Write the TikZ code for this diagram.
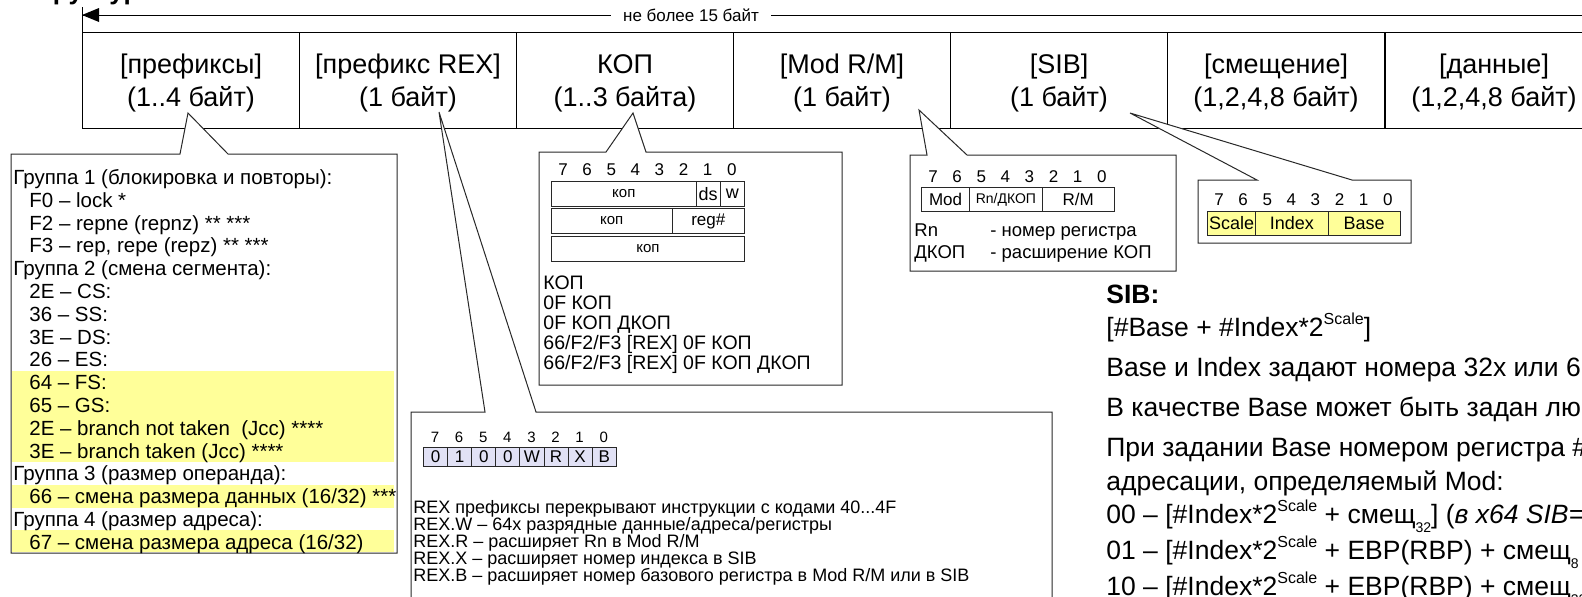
\documentclass[tikz,border=0pt]{standalone}
\usepackage{fontspec}
\setmainfont{Liberation Sans}
\definecolor{hlyel}{RGB}{255,255,153}
\definecolor{rexfill}{RGB}{225,225,245}
\definecolor{lnc}{RGB}{40,40,40}
\newcommand\fsz[1]{\fontsize{#1}{#1}\selectfont}
\newcommand\supx[1]{\raisebox{0.45em}{\fsz{8}#1}}
\newcommand\subx[1]{\raisebox{-0.35em}{\fsz{7}#1}}
\begin{document}
\begin{tikzpicture}[x=0.5pt,y=-0.5pt,
  field/.style={draw, line width=0.5pt, anchor=north west, minimum width=108.5pt, minimum height=48pt, inner sep=0pt},
  ftxt/.style={align=center, inner sep=0pt, font=\fontsize{13.5}{16.5}\selectfont},
  callout/.style={draw=lnc, fill=white, line width=0.5pt, line join=miter},
  ptxt/.style={anchor=base west, inner sep=0pt, font=\fsz{10.25}},
  ctxt/.style={anchor=base west, inner sep=0pt, font=\fsz{9.75}},
  mtxt/.style={anchor=base west, inner sep=0pt, font=\fsz{9.25}},
  rtxt/.style={anchor=base west, inner sep=0pt, font=\fsz{9}},
  stxt/.style={anchor=base west, inner sep=0pt, font=\fsz{13.25}},
  hdr/.style={anchor=center, inner sep=0pt, font=\fsz{8.5}},
  cell/.style={draw=lnc, line width=0.5pt, anchor=north west, inner sep=0pt, minimum height=12.5pt},
]
\useasboundingbox (0,0) rectangle (1582,596);
\newcommand\pl[3]{\node[ptxt] (pl#1) at (#2,{184.4+22.8*#1}) {#3};}

% ---- title (cut by the top edge)
\node[anchor=base west, inner sep=0pt, font=\fsz{13}\bfseries] (title) at (-70,-1) {Общая структура};

% ---- top dimension arrow
\coordinate (aL) at (82,15);
\coordinate (aR) at (1600,15);
\draw[line width=0.5pt] (82,7) -- (82,32);
\draw[line width=0.5pt] (aL) -- (aR);
\fill (aL) -- ++(17,-7) -- ++(0,14) -- cycle;
\node[fill=white, inner xsep=6pt, inner ysep=1pt, font=\fsz{8.5}] (lim) at (691,15) {не более 15 байт};

% ---- fields
\foreach \n/\x in {1/82,2/299,3/516,4/733,5/950,6/1167,7/1385}{
  \node[field] (f\n) at (\x,32) {};
}
\node[ftxt] (f1t) at ([yshift=-1.5pt]f1.center) {[префиксы]\\(1..4 байт)};
\node[ftxt] (f2t) at ([yshift=-1.5pt]f2.center) {[префикс REX]\\(1 байт)};
\node[ftxt] (f3t) at ([yshift=-1.5pt]f3.center) {КОП\\(1..3 байта)};
\node[ftxt] (f4t) at ([yshift=-1.5pt]f4.center) {[Mod R/M]\\(1 байт)};
\node[ftxt] (f5t) at ([yshift=-1.5pt]f5.center) {[SIB]\\(1 байт)};
\node[ftxt] (f6t) at ([yshift=-1.5pt]f6.center) {[смещение]\\(1,2,4,8 байт)};
\node[ftxt] (f7t) at ([yshift=-1.5pt]f7.center) {[данные]\\(1,2,4,8 байт)};

% ---- prefix callout
\coordinate (pA) at (188,113);
\draw[callout] (11,154) -- (180,154) -- (pA) -- (228,154) -- (397,154) -- (397,553) -- (11,553) -- cycle;
\fill[hlyel] (12,{177+22.8*9-11.4}) rectangle (394,{177+22.8*12+11.4});
\fill[hlyel] (12,{177+22.8*14-11.4}) rectangle (394,{177+22.8*14+11.4});
\fill[hlyel] (12,{177+22.8*16-11.4}) rectangle (394,{177+22.8*16+10});
\pl{0}{13}{Группа 1 (блокировка и повторы):}
\pl{1}{29}{F0 – lock *}
\pl{2}{29}{F2 – repne (repnz) ** ***}
\pl{3}{29}{F3 – rep, repe (repz) ** ***}
\pl{4}{13}{Группа 2 (смена сегмента):}
\pl{5}{29}{2E – CS:}
\pl{6}{29}{36 – SS:}
\pl{7}{29}{3E – DS:}
\pl{8}{29}{26 – ES:}
\pl{9}{29}{64 – FS:}
\pl{10}{29}{65 – GS:}
\pl{11}{29}{2E – branch not taken\ \ (Jcc) ****}
\pl{12}{29}{3E – branch taken (Jcc) ****}
\pl{13}{13}{Группа 3 (размер операнда):}
\pl{14}{29}{66 – смена размера данных (16/32) ***}
\pl{15}{13}{Группа 4 (размер адреса):}
\pl{16}{29}{67 – смена размера адреса (16/32)}

% ---- REX callout
\coordinate (rA) at (439,112);
\draw[callout] (411,620) -- (411,412) -- (485,412) -- (rA) -- (536,412) -- (1052,412) -- (1052,620);
\foreach \b/\v in {7/0,6/1,5/0,4/0,3/W,2/R,1/X,0/B}{
  \node[cell, fill=rexfill, minimum width=12.05pt, minimum height=9.5pt, font=\fsz{8.5}] (rc\b) at ({423+24.1*(7-\b)},447) {\v};
  \node[hdr, font=\fsz{7.5}] (rh\b) at ({423+24.1*(7-\b)+12.05},437) {\b};
}
\node[rtxt] (r1) at (413,513.5) {REX префиксы перекрывают инструкции с кодами 40...4F};
\node[rtxt] (r2) at (413,530.5) {REX.W – 64х разрядные данные/адреса/регистры};
\node[rtxt] (r3) at (413,547.5) {REX.R – расширяет Rn в Mod R/M};
\node[rtxt] (r4) at (413,564.5) {REX.X – расширяет номер индекса в SIB};
\node[rtxt] (r5) at (413,581.5) {REX.B – расширяет номер базового регистра в Mod R/M или в SIB};

% ---- KOP callout
\coordinate (kA) at (633,113);
\draw[callout] (539,152) -- (606,152) -- (kA) -- (646,152) -- (842,152) -- (842,385) -- (539,385) -- cycle;
\foreach \b in {0,...,7}{
  \node[hdr] (kh\b) at ({551+24.1*(7-\b)+12.05},170) {\b};
}
\node[cell, minimum width=72.3pt, font=\fsz{7.5}] (kc1) at (551,181) {коп};
\node[cell, minimum width=12.05pt, font=\fsz{9}] (kc2) at (695.6,181) {ds};
\node[cell, minimum width=12.15pt, font=\fsz{9}] (kc3) at (719.7,181) {w};
\node[cell, minimum width=60.25pt, font=\fsz{7.5}] (kc4) at (551,208) {коп};
\node[cell, minimum width=36.25pt, font=\fsz{8.5}] (kc5) at (671.5,208) {reg\#};
\node[cell, minimum width=96.5pt, font=\fsz{7.5}] (kc6) at (551,236) {коп};
\node[ctxt] (k1) at (543,289) {КОП};
\node[ctxt] (k2) at (543,309) {0F КОП};
\node[ctxt] (k3) at (543,329) {0F КОП ДКОП};
\node[ctxt] (k4) at (543,349) {66/F2/F3 [REX] 0F КОП};
\node[ctxt] (k5) at (543,369) {66/F2/F3 [REX] 0F КОП ДКОП};

% ---- Mod R/M callout
\coordinate (mA) at (919,110);
\draw[callout] (910,155) -- (927,155) -- (mA) -- (967,155) -- (1176,155) -- (1176,271) -- (910,271) -- cycle;
\foreach \b in {0,...,7}{
  \node[hdr] (mh\b) at ({921+24.1*(7-\b)+12.05},177) {\b};
}
\node[cell, minimum width=24.1pt, minimum height=12pt, font=\fsz{8.5}] (mc1) at (921,187) {Mod};
\node[cell, minimum width=36.15pt, minimum height=12pt, font=\fsz{7}] (mc2) at (969.2,187) {Rn/ДКОП};
\node[cell, minimum width=36.15pt, minimum height=12pt, font=\fsz{8.5}] (mc3) at (1041.5,187) {R/M};
\node[mtxt] (m1) at (914,236.7) {Rn};
\node[mtxt] (m2) at (990,236.7) {- номер регистра};
\node[mtxt] (m3) at (914,258.7) {ДКОП};
\node[mtxt] (m4) at (990,258.7) {- расширение КОП};

% ---- SIB callout
\coordinate (sA) at (1130,113);
\draw[callout] (1198,180) -- (1257,180) -- (sA) -- (1352,180) -- (1411,180) -- (1411,243) -- (1198,243) -- cycle;
\foreach \b in {0,...,7}{
  \node[hdr] (sh\b) at ({1207+24.1*(7-\b)+12.05},200) {\b};
}
\node[cell, fill=hlyel, minimum width=24.1pt, minimum height=12pt, font=\fsz{9}] (sc1) at (1207,211) {Scale};
\node[cell, fill=hlyel, minimum width=36.15pt, minimum height=12pt, font=\fsz{9}] (sc2) at (1255.2,211) {Index};
\node[cell, fill=hlyel, minimum width=36.15pt, minimum height=12pt, font=\fsz{9}] (sc3) at (1327.5,211) {Base};

% ---- SIB description
\node[stxt, font=\fsz{13.25}\bfseries] (t0) at (1106,303.5) {SIB:};
\node[stxt] (t1) at (1106,336.5) {[\#Base + \#Index*2\supx{Scale}]};
\node[stxt] (t2) at (1106,376.5) {Base и Index задают номера 32х или 6};
\node[stxt] (t3) at (1106,416.5) {В качестве Base может быть задан лю};
\node[stxt] (t4) at (1106,456.5) {При задании Base номером регистра \#};
\node[stxt] (t5) at (1106,490.5) {адресации, определяемый Mod:};
\node[stxt] (t6) at (1106,523.5) {00 – [\#Index*2\supx{Scale} + смещ\subx{32}] (\textit{в x64 SIB=}};
\node[stxt] (t7) at (1106,559.5) {01 – [\#Index*2\supx{Scale} + EBP(RBP) + смещ\subx{8}};
\node[stxt] (t8) at (1106,595.5) {10 – [\#Index*2\supx{Scale} + EBP(RBP) + смещ\subx{32}]};
\end{tikzpicture}
\end{document}
